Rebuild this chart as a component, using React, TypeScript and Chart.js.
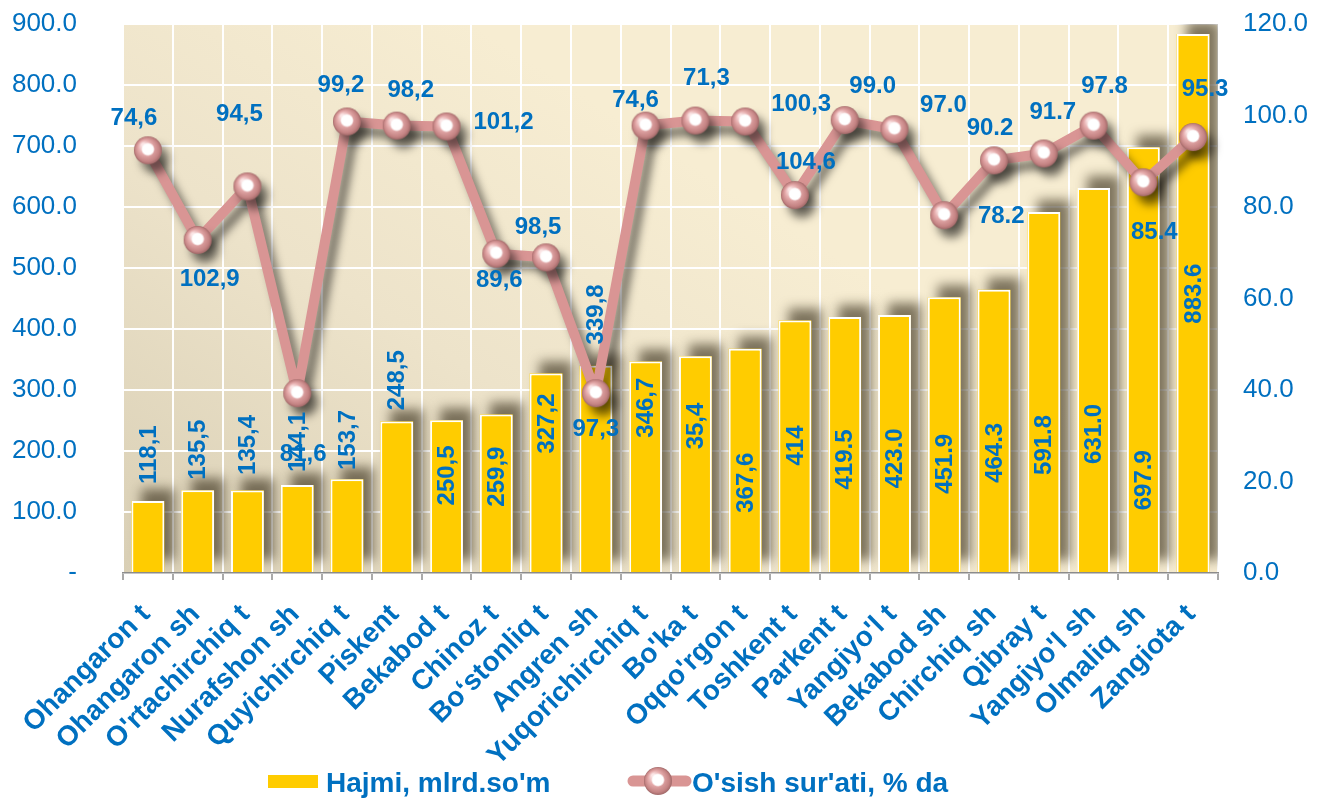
import React, { useEffect, useRef } from 'react';
import { Chart, registerables } from 'chart.js';

Chart.register(...registerables);

// ---------- DATA ----------
const categories = [
  'Ohangaron t', 'Ohangaron sh', "O'rtachirchiq t", 'Nurafshon sh', 'Quyichirchiq t',
  'Piskent', 'Bekabod t', 'Chinoz t', 'Bo\u2018stonliq t', 'Angren sh', 'Yuqorichirchiq t',
  "Bo'ka t", "Oqqo'rgon t", 'Toshkent t', 'Parkent t', "Yangiyo'l t", 'Bekabod sh',
  'Chirchiq sh', 'Qibray t', "Yangiyo'l sh", 'Olmaliq sh', 'Zangiota t',
];

const volumeValues = [
  118.1, 135.5, 135.4, 144.1, 153.7, 248.5, 250.5, 259.9, 327.2, 339.8, 346.7,
  355.4, 367.6, 414.0, 419.5, 423.0, 451.9, 464.3, 591.8, 631.0, 697.9, 883.6,
];

const volumeLabels = [
  '118,1', '135,5', '135,4', '144,1', '153,7', '248,5', '250,5', '259,9', '327,2', '339,8', '346,7',
  '35,4', '367,6', '414', '419.5', '423.0', '451.9', '464.3', '591.8', '631.0', '697.9', '883.6',
];

const growthValues = [
  92.4, 72.8, 84.5, 39.3, 98.7, 97.8, 97.6, 69.8, 69.0, 39.3, 97.8,
  98.9, 98.7, 82.6, 99.0, 97.0, 78.2, 90.2, 91.7, 97.8, 85.4, 95.3,
];

const growthLabels = [
  '74,6', '102,9', '94,5', '81,6', '99,2', '98,2', '101,2', '89,6', '98,5', '97,3', '74,6',
  '71,3', '100,3', '104,6', '99.0', '97.0', '78.2', '90.2', '91.7', '97.8', '85.4', '95.3',
];

const leftTicks = [0, 100, 200, 300, 400, 500, 600, 700, 800, 900];
const rightTicks = [0, 20, 40, 60, 80, 100, 120];

const seriesNames = ['Hajmi, mlrd.so\'m', "O'sish sur'ati, % da"];

// ---------- LAYOUT (label placement, not data) ----------
// centre of each rotated volume label, in left-axis units
const volumeLabelAt = [
  194, 202, 210, 215, 218, 316, 160, 158, 245, 424, 271,
  241, 148, 209, 186, 188, 179, 197, 210, 228, 152, 458,
];
// offset (px) of each growth label from its point
const growthLabelOffset: [number, number][] = [
  [-14, -32], [12, 39], [-8, -72], [6, 61], [-6, -36], [14, -35], [57, -4], [3, 27], [-8, -30], [0, 36], [-10, -25],
  [11, -42], [56, -17], [11, -33], [28, -34], [49, -24], [57, 1], [-4, -32], [9, -41], [11, -39], [11, 50], [12, -48],
];

const BLUE = '#0070C0';
const YELLOW = '#FFCC00';
const PINK = '#D99594';
const FAMILY = "'Liberation Sans', Arial, sans-serif";

function makeSphere(r: number): HTMLCanvasElement {
  const c = document.createElement('canvas');
  const s = r * 2 + 2;
  c.width = s;
  c.height = s;
  const g = c.getContext('2d')!;
  const cx = s / 2;
  const cy = s / 2;
  const grad = g.createRadialGradient(cx - r * 0.35, cy - r * 0.4, r * 0.1, cx, cy, r);
  grad.addColorStop(0, '#FBE6E6');
  grad.addColorStop(0.45, '#E5ABAB');
  grad.addColorStop(0.85, '#C48383');
  grad.addColorStop(1, '#A06868');
  g.fillStyle = grad;
  g.beginPath();
  g.arc(cx, cy, r, 0, Math.PI * 2);
  g.fill();
  const w = g.createRadialGradient(cx, cy - 1, 0, cx, cy - 1, r * 0.5);
  w.addColorStop(0, '#FFFFFF');
  w.addColorStop(0.75, '#FFFFFF');
  w.addColorStop(1, 'rgba(255,255,255,0)');
  g.fillStyle = w;
  g.beginPath();
  g.arc(cx, cy - 1, r * 0.5, 0, Math.PI * 2);
  g.fill();
  return c;
}

export default function App() {
  const canvasRef = useRef<HTMLCanvasElement | null>(null);

  useEffect(() => {
    document.body.style.margin = '0';
    const canvas = canvasRef.current;
    if (!canvas) return;
    const sphere = makeSphere(14);

    const decorPlugin = {
      id: 'decor',
      beforeDraw(chart: any) {
        const { ctx, chartArea: a } = chart;
        ctx.save();
        const g = ctx.createLinearGradient(a.left, a.bottom, a.left + 350, a.top);
        g.addColorStop(0, '#D9CFB5');
        g.addColorStop(0.55, '#EDE3CA');
        g.addColorStop(1, '#F7EDD2');
        ctx.fillStyle = g;
        ctx.fillRect(a.left, a.top, a.right - a.left, a.bottom - a.top);
        ctx.restore();
      },
      beforeDatasetDraw(chart: any, args: any) {
        const { ctx, chartArea: a } = chart;
        if (args.index === 0) {
          const meta = chart.getDatasetMeta(0);
          ctx.save();
          ctx.beginPath();
          ctx.rect(a.left, a.top, a.right - a.left, a.bottom - a.top);
          ctx.clip();
          ctx.shadowColor = 'rgba(60,50,30,0.65)';
          ctx.shadowBlur = 12;
          ctx.shadowOffsetX = 10;
          ctx.shadowOffsetY = -12;
          ctx.fillStyle = YELLOW;
          meta.data.forEach((el: any) => {
            const p = el.getProps(['x', 'y', 'base', 'width'], true);
            ctx.fillRect(p.x - p.width / 2, p.y, p.width, p.base - p.y);
          });
          ctx.restore();
        } else if (args.index === 1) {
          ctx.save();
          ctx.shadowColor = 'rgba(0,0,0,0.5)';
          ctx.shadowBlur = 9;
          ctx.shadowOffsetX = 7;
          ctx.shadowOffsetY = 9;
        }
      },
      afterDatasetDraw(chart: any, args: any) {
        if (args.index === 1) chart.ctx.restore();
      },
      afterDatasetsDraw(chart: any) {
        const { ctx } = chart;
        const yl = chart.scales.y;
        const barMeta = chart.getDatasetMeta(0);
        const lineMeta = chart.getDatasetMeta(1);
        ctx.save();
        ctx.fillStyle = BLUE;
        ctx.font = `bold 24px ${FAMILY}`;
        ctx.textAlign = 'center';
        ctx.textBaseline = 'middle';
        barMeta.data.forEach((el: any, i: number) => {
          const x = el.x;
          const y = yl.getPixelForValue(volumeLabelAt[i]);
          ctx.save();
          ctx.translate(x, y);
          ctx.rotate(-Math.PI / 2);
          ctx.fillText(volumeLabels[i], 0, 1);
          ctx.restore();
        });
        lineMeta.data.forEach((el: any, i: number) => {
          const [dx, dy] = growthLabelOffset[i];
          ctx.fillText(growthLabels[i], el.x + dx, el.y + dy);
        });
        ctx.restore();
      },
      afterDraw(chart: any) {
        const { ctx } = chart;
        const xs = chart.scales.x;
        ctx.save();
        ctx.fillStyle = BLUE;
        ctx.font = `bold 28px ${FAMILY}`;
        ctx.textAlign = 'right';
        ctx.textBaseline = 'middle';
        categories.forEach((c, i) => {
          const x = xs.getPixelForValue(i) - 2;
          const y = xs.top + 37;
          ctx.save();
          ctx.translate(x, y);
          ctx.rotate(-Math.PI / 4);
          ctx.fillText(c, 0, 0);
          ctx.restore();
        });
        // legend
        const ly = 781;
        ctx.fillStyle = YELLOW;
        ctx.fillRect(268, ly - 6, 50, 13);
        ctx.fillStyle = BLUE;
        ctx.textAlign = 'left';
        ctx.textBaseline = 'alphabetic';
        ctx.fillText(seriesNames[0], 326, ly + 11);
        ctx.strokeStyle = PINK;
        ctx.lineWidth = 11;
        ctx.lineCap = 'round';
        ctx.beginPath();
        ctx.moveTo(633, ly);
        ctx.lineTo(686, ly);
        ctx.stroke();
        ctx.drawImage(sphere, 658 - sphere.width / 2, ly - sphere.height / 2);
        ctx.fillStyle = BLUE;
        ctx.fillText(seriesNames[1], 692, ly + 11);
        ctx.restore();
      },
    };

    const chart = new Chart(canvas, {
      type: 'bar',
      data: {
        labels: categories,
        datasets: [
          {
            type: 'bar',
            label: seriesNames[0],
            data: volumeValues,
            backgroundColor: YELLOW,
            borderColor: '#FFFFFF',
            borderWidth: 2,
            borderSkipped: 'bottom',
            barPercentage: 0.66,
            categoryPercentage: 1,
            yAxisID: 'y',
            order: 1,
          },
          {
            type: 'line',
            label: seriesNames[1],
            data: growthValues,
            borderColor: PINK,
            borderWidth: 10,
            borderJoinStyle: 'round',
            pointStyle: sphere as any,
            pointRadius: 14,
            pointHoverRadius: 14,
            tension: 0,
            yAxisID: 'y1',
            order: 0,
          } as any,
        ],
      },
      plugins: [decorPlugin],
      options: {
        responsive: false,
        animation: false,
        events: [],
        layout: { padding: { top: 21, left: 0, right: 0, bottom: 0 } },
        plugins: {
          legend: { display: false },
          tooltip: { enabled: false },
        },
        scales: {
          x: {
            offset: true,
            grid: {
              offset: true,
              color: '#FFFFFF',
              lineWidth: 2,
              drawTicks: true,
              tickLength: 7,
              tickColor: '#8C8C8C',
              tickWidth: 1.5,
            },
            border: { display: true, color: '#8C8C8C', width: 1.5 },
            ticks: { display: false },
            afterFit(scale: any) {
              scale.height = 225;
            },
          },
          y: {
            position: 'left',
            min: 0,
            max: 900,
            afterBuildTicks(scale: any) {
              scale.ticks = leftTicks.map((v) => ({ value: v }));
            },
            grid: {
              color: '#FFFFFF',
              lineWidth: 2,
              drawTicks: true,
              tickLength: 46,
              tickColor: 'rgba(0,0,0,0)',
            },
            border: { display: false },
            ticks: {
              color: BLUE,
              padding: 0,
              font: { family: FAMILY, size: 26 },
              callback: (v: any) => (Number(v) === 0 ? '-' : Number(v).toFixed(1)),
            },
            afterFit(scale: any) {
              scale.width = 123;
            },
          },
          y1: {
            position: 'right',
            min: 0,
            max: 120,
            afterBuildTicks(scale: any) {
              scale.ticks = rightTicks.map((v) => ({ value: v }));
            },
            grid: {
              drawOnChartArea: false,
              drawTicks: true,
              tickLength: 25,
              tickColor: 'rgba(0,0,0,0)',
            },
            border: { display: false },
            ticks: {
              color: BLUE,
              padding: 0,
              font: { family: FAMILY, size: 26 },
              callback: (v: any) => Number(v).toFixed(1),
            },
            afterFit(scale: any) {
              scale.width = 106;
            },
          },
        },
      } as any,
    });

    return () => {
      chart.destroy();
    };
  }, []);

  return (
    <div style={{ position: 'absolute', left: 0, top: 0, width: 1324, height: 798, background: '#FFFFFF' }}>
      <canvas ref={canvasRef} width={1324} height={798} style={{ display: 'block' }} />
    </div>
  );
}
